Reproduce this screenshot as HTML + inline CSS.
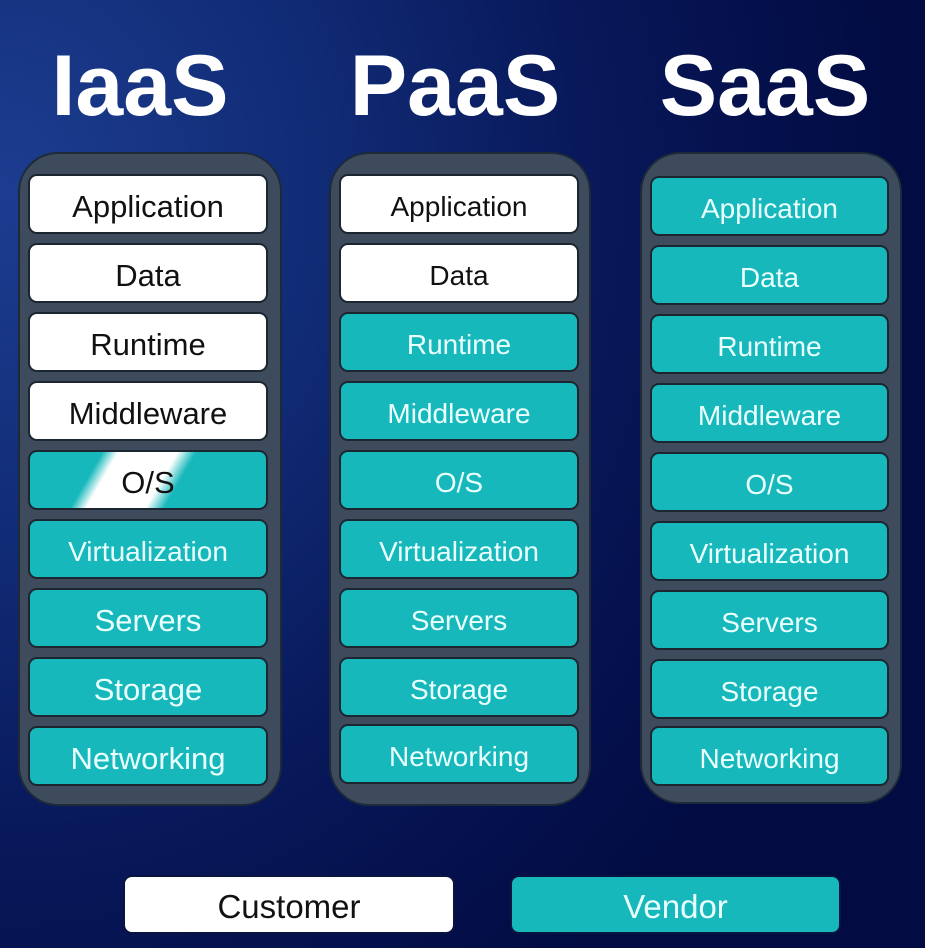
<!DOCTYPE html>
<html><head><meta charset="utf-8"><style>
body{margin:0;width:925px;height:948px;overflow:hidden;background:radial-gradient(ellipse 900px 1000px at 0% 20%,#1c3d90 0%,#112c76 35%,#08185a 65%,#020b42 100%);font-family:"Liberation Sans",sans-serif;position:relative}
.t{position:absolute;top:36px;width:300px;text-align:center;color:#fff;font-weight:bold;font-size:86px;letter-spacing:0px;line-height:100px}
.c{position:absolute;background:#3e4b5d;border:2px solid #1e2a38;border-radius:40px;box-sizing:border-box}
.b{position:absolute;height:60px;border:2px solid #1c2630;border-radius:9px;box-sizing:border-box;text-align:center;line-height:62px;font-size:28px}
.w{background:#fff;color:#111}
.v{background:#17b8bb;color:#eaffff}
.L{font-size:31px}
</style></head><body>
<div class="t" style="left:-10px">IaaS</div>
<div class="t" style="left:305px">PaaS</div>
<div class="t" style="left:615px">SaaS</div>

<div class="c" style="left:18px;top:152px;width:264px;height:654px"></div>
<div class="c" style="left:329px;top:152px;width:262px;height:654px"></div>
<div class="c" style="left:640px;top:152px;width:262px;height:652px"></div>

<div class="b w L" style="left:28px;top:174px;width:240px">Application</div>
<div class="b w L" style="left:28px;top:243px;width:240px">Data</div>
<div class="b w L" style="left:28px;top:312px;width:240px">Runtime</div>
<div class="b w L" style="left:28px;top:381px;width:240px">Middleware</div>
<div class="b L" style="left:28px;top:450px;width:240px;color:#111;background:linear-gradient(120deg,#17b8bb 0%,#17b8bb 27%,#fff 33%,#fff 55%,#17b8bb 62%,#17b8bb 100%)">O/S</div>
<div class="b v" style="left:28px;top:519px;width:240px">Virtualization</div>
<div class="b v L" style="left:28px;top:588px;width:240px">Servers</div>
<div class="b v L" style="left:28px;top:657px;width:240px">Storage</div>
<div class="b v L" style="left:28px;top:726px;width:240px">Networking</div>

<div class="b w" style="left:339px;top:174px;width:240px">Application</div>
<div class="b w" style="left:339px;top:243px;width:240px">Data</div>
<div class="b v" style="left:339px;top:312px;width:240px">Runtime</div>
<div class="b v" style="left:339px;top:381px;width:240px">Middleware</div>
<div class="b v" style="left:339px;top:450px;width:240px">O/S</div>
<div class="b v" style="left:339px;top:519px;width:240px">Virtualization</div>
<div class="b v" style="left:339px;top:588px;width:240px">Servers</div>
<div class="b v" style="left:339px;top:657px;width:240px">Storage</div>
<div class="b v" style="left:339px;top:724px;width:240px">Networking</div>

<div class="b v" style="left:650px;top:176px;width:239px">Application</div>
<div class="b v" style="left:650px;top:245px;width:239px">Data</div>
<div class="b v" style="left:650px;top:314px;width:239px">Runtime</div>
<div class="b v" style="left:650px;top:383px;width:239px">Middleware</div>
<div class="b v" style="left:650px;top:452px;width:239px">O/S</div>
<div class="b v" style="left:650px;top:521px;width:239px">Virtualization</div>
<div class="b v" style="left:650px;top:590px;width:239px">Servers</div>
<div class="b v" style="left:650px;top:659px;width:239px">Storage</div>
<div class="b v" style="left:650px;top:726px;width:239px">Networking</div>

<div class="b w L" style="left:123px;top:875px;width:332px;height:59px;line-height:60px;font-size:33px;border-color:#0a1440">Customer</div>
<div class="b v L" style="left:510px;top:875px;width:331px;height:59px;line-height:60px;font-size:33px;border-color:#0a1440">Vendor</div>
</body></html>
